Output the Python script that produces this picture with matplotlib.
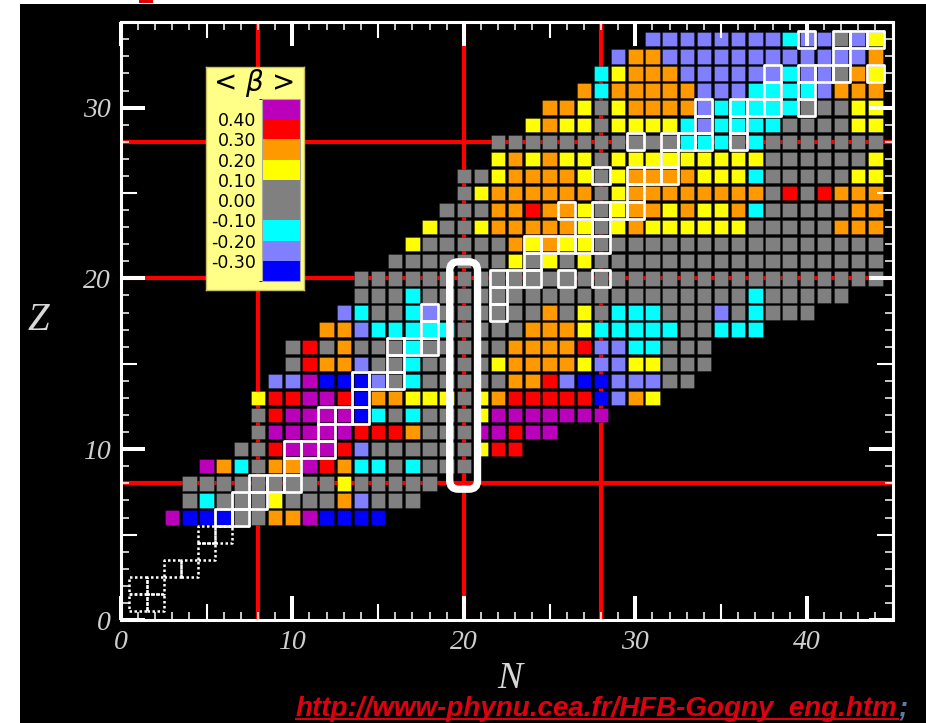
import matplotlib
matplotlib.use("Agg")
import matplotlib.pyplot as plt
import matplotlib.cm as cm
from matplotlib.colors import ListedColormap, BoundaryNorm
from matplotlib.collections import PatchCollection
from matplotlib.patches import Rectangle, FancyBboxPatch
from matplotlib.ticker import MultipleLocator, FuncFormatter

# <beta> class of every computed nucleus: one string per proton number Z,
# starting at neutron number n_first
z_rows = list(range(6, 35))
n_first = [3, 4, 4, 5, 7, 8, 8, 8, 9, 10, 10, 12, 13, 14, 14,
           16, 17, 18, 19, 20, 20, 22, 22, 24, 25, 27, 28, 29, 31]
beta_rows = [
    "MBBBGGOOMBBBB",                    # Z=6
    "GCGGGYGGGOPGGG",                   # Z=7
    "GGGGGGGGGYGGGGG",                  # Z=8
    "MOCGOOMROCCGCGGG",                 # Z=9
    "GGRMMMRPGGGGGGYRR",                # Z=10
    "GMMMMMRRROGGGMMRMM",               # Z=11
    "GRMMMMBCGCGGGYMMMMMMM",            # Z=12
    "YRRMMRBOOYYYGYORRRRRBPOY",         # Z=13
    "PPMBBBPGCGGGGGOORPBBPPPGG",        # Z=14
    "GROOPGGCGGGGYOOOOYPPYYGGG",        # Z=15
    "GRGOGGGCGGGGGOOOORPPCCGGG",        # Z=16
    "OOPCCCCCGGGGOOOYCCCCCGGCCC",       # Z=17
    "PCGGCPGGGGGGOGYGCCCGGGPGCGGG",     # Z=18
    "GGGCGGGGGGGGGGGGGGGGGGGCGGGGG",    # Z=19
    "GGGGGGGGGGGGGGGGGGGGGGGGGGGGGGG",  # Z=20
    "GGGGGGGYGYGYGGGGGGGGGGGGGGGGG",    # Z=21
    "YGGGGGOYOYYGGGGGGGGGGGGGGGGG",     # Z=22
    "YGGYOOOOOYGYOYYYYYYGGGGGOOO",      # Z=23
    "GGGOOROOYGYOOYOYYOCGGGGGOO",       # Z=24
    "GYOOOOOOGYOOOOOOOOGRGROOO",        # Z=25
    "GGYOOOOYGYOOOOYYYCGGGGGYY",        # Z=26
    "YOYOYYGYYYYYYYYYGGGGGGY",          # Z=27
    "GGGGGGGGGGGCCCGCGGGGGGG",          # Z=28
    "YOYYGYYYYCPCCCCGGGGYY",            # Z=29
    "OOYGYOOOOPCCCCCGGGYY",             # Z=30
    "OCOOOOOPPPCCCCPOOO",               # Z=31
    "CYOOOPPPPPPCPPGOY",                # Z=32
    "POOPPPPPPPPPPPPO",                 # Z=33
    "PPPPPPPPCPPGPY",                   # Z=34
]

# colour classes of the <beta> scale and a representative value for each
class_codes = ["B", "P", "C", "G", "Y", "O", "R", "M"]
class_beta = [-0.35, -0.25, -0.15, 0.0, 0.15, 0.25, 0.35, 0.45]
beta_bounds = [-0.4, -0.3, -0.2, -0.1, 0.1, 0.2, 0.3, 0.4, 0.5]
beta_colors = ["#0000ff", "#8080ff", "#00ffff", "#808080",
               "#ffff00", "#ff9900", "#ff0000", "#bb00bb"]
legend_ticks = [-0.3, -0.2, -0.1, 0.0, 0.1, 0.2, 0.3, 0.4]

# stable nuclei outlined on the chart (the N=20 isotones sit in the box)
stable_z = [6, 6, 7, 7, 8, 8, 8, 9, 10, 10, 10, 11, 12, 12, 12, 13,
            14, 14, 14, 15, 16, 16, 16, 17, 18, 18, 19,
            20, 20, 20, 20, 20, 21, 22, 22, 22, 22, 22, 23, 23,
            24, 24, 24, 24, 25, 26, 26, 26, 26, 27,
            28, 28, 28, 28, 28, 29, 29, 30, 30, 30, 30, 30, 31, 31,
            32, 32, 32, 32, 32, 33, 34, 34, 34, 34]
stable_n = [6, 7, 7, 8, 8, 9, 10, 10, 10, 11, 12, 12, 12, 13, 14, 14,
            14, 15, 16, 16, 16, 17, 18, 18, 18, 22, 22,
            22, 23, 24, 26, 28, 24, 24, 25, 26, 27, 28, 27, 28,
            26, 28, 29, 30, 30, 28, 30, 31, 32, 32,
            30, 32, 33, 34, 36, 34, 36, 34, 36, 37, 38, 40, 38, 40,
            38, 40, 41, 42, 44, 42, 40, 42, 43, 44]

# light stable nuclei without HFB results
light_n = [1, 2, 1, 2, 3, 4, 5, 5, 6]
light_z = [1, 1, 2, 2, 3, 3, 4, 5, 5]

magic = [8, 20, 28]

W, H = 926, 723
fig = plt.figure(figsize=(W / 100, H / 100), dpi=100, facecolor="white")
fig.patches.append(Rectangle((20 / W, 0), 1 - 20 / W, 1 - 4 / H, transform=fig.transFigure,
                             facecolor="black", edgecolor="none", zorder=-10))
fig.patches.append(Rectangle((139 / W, 1 - 3 / H), 14 / W, 3 / H, transform=fig.transFigure,
                             facecolor="#e00000", edgecolor="none", zorder=-9))

ax = fig.add_axes([120.8 / W, 103 / H, 771.75 / W, 597.8 / H])
ax.set_facecolor("black")
ax.set_xlim(0, 45)
ax.set_ylim(0, 35)

for m in magic:
    ax.axvline(m, color="#ff0000", lw=3, zorder=1)
    ax.axhline(m, color="#ff0000", lw=3, zorder=1)

cmap = ListedColormap(beta_colors)
norm = BoundaryNorm(beta_bounds, cmap.N)
code_value = dict(zip(class_codes, class_beta))

size = 0.84
cells, values = [], []
for z, n0, row in zip(z_rows, n_first, beta_rows):
    for i, code in enumerate(row):
        cells.append(Rectangle((n0 + i - size / 2, z - size / 2), size, size))
        values.append(code_value[code])
cell_coll = PatchCollection(cells, cmap=cmap, norm=norm, edgecolor=(0, 0, 0, 0.35),
                            linewidth=0.6, zorder=2)
cell_coll.set_array(values)
ax.add_collection(cell_coll)

stable = PatchCollection([Rectangle((n - 0.5, z - 0.5), 1, 1) for n, z in zip(stable_n, stable_z)],
                         facecolor="none", edgecolor="white", linewidth=2.0, zorder=3)
ax.add_collection(stable)
light = PatchCollection([Rectangle((n - 0.5, z - 0.5), 1, 1) for n, z in zip(light_n, light_z)],
                        facecolor="none", edgecolor="white", linewidth=1.8,
                        linestyle=(0, (1, 1)), zorder=3)
ax.add_collection(light)

ax.add_patch(FancyBboxPatch((19.18, 7.66), 1.62, 13.31, boxstyle="round,pad=0,rounding_size=0.5",
                            fill=False, edgecolor="white", linewidth=5.3, zorder=4))

# axes frame and ticks
for sp in ax.spines.values():
    sp.set_color("white")
    sp.set_linewidth(2.2)
    sp.set_zorder(6)
ax.xaxis.set_zorder(5)
ax.yaxis.set_zorder(5)
for axis in (ax.xaxis, ax.yaxis):
    axis.set_major_locator(MultipleLocator(5))
    axis.set_minor_locator(MultipleLocator(1))
    axis.set_major_formatter(FuncFormatter(lambda v, p: f"{v:.0f}" if round(v) % 10 == 0 else ""))
ax.tick_params(which="both", direction="in", top=True, right=True, colors="white")
ax.tick_params(which="minor", length=5.8, width=1.1)
ax.tick_params(which="major", pad=7, labelsize=20, labelcolor="#cfcfcf")
for lab in ax.get_xticklabels() + ax.get_yticklabels():
    lab.set_family("Liberation Serif")
    lab.set_style("italic")

for axis in (ax.xaxis, ax.yaxis):
    for tick, loc in zip(axis.get_major_ticks(), axis.get_majorticklocs()):
        big = round(loc) % 10 == 0
        for line in (tick.tick1line, tick.tick2line):
            line.set_markersize(17 if big else 11.5)
            line.set_markeredgewidth(2.9 if big else 1.5)

fig.text(510 / W, 1 - 679 / H, "N", ha="center", va="center", fontsize=27,
         family="Liberation Serif", style="italic", color="#d8d8d8")
fig.text(38 / W, 1 - 320 / H, "Z", ha="center", va="center", fontsize=28,
         family="Liberation Serif", style="italic", color="#d8d8d8")

# <beta> legend
lax = fig.add_axes([206 / W, 1 - 290 / H, 98 / W, 223 / H])
lax.set_zorder(7)
lax.set_facecolor("#ffff88")
lax.set_xticks([])
lax.set_yticks([])
for sp in lax.spines.values():
    sp.set_color("#c8c060")
    sp.set_linewidth(1)
lax.text(0.48, 0.93, r"< $\beta$ >", ha="center", va="center", fontsize=20,
         transform=lax.transAxes)

cax = fig.add_axes([262 / W, 1 - 281 / H, 38 / W, 182 / H])
cax.set_zorder(8)
cb = fig.colorbar(cm.ScalarMappable(norm=norm, cmap=cmap), cax=cax,
                  spacing="proportional", ticks=legend_ticks)
cb.outline.set_edgecolor("#a8a8a8")
cb.outline.set_linewidth(0.8)
cax.yaxis.set_ticks_position("left")
cax.yaxis.set_label_position("left")
cax.set_yticklabels([f"{t:.2f}" for t in legend_ticks])
cax.tick_params(length=0, pad=4, labelsize=12.5, labelcolor="black")

# source link
url = fig.text(296 / W, 1 - 716 / H, "http://www-phynu.cea.fr/HFB-Gogny_eng.htm",
               ha="left", va="baseline", fontsize=20, family="Liberation Sans",
               weight="bold", style="italic", color="#dd0011")
fig.canvas.draw()
bb = url.get_window_extent()
x0, x1 = bb.x0 / W, bb.x1 / W
fig.add_artist(plt.Line2D([x0, x1], [1 - 719 / H, 1 - 719 / H], color="#dd0011",
                          lw=1.5, transform=fig.transFigure))
fig.text(x1 + 1 / W, 1 - 716 / H, ";", ha="left", va="baseline", fontsize=20,
         family="Liberation Sans", weight="bold", style="italic", color="#5b7ba8")

fig.savefig("out.png", dpi=100, facecolor=fig.get_facecolor())
